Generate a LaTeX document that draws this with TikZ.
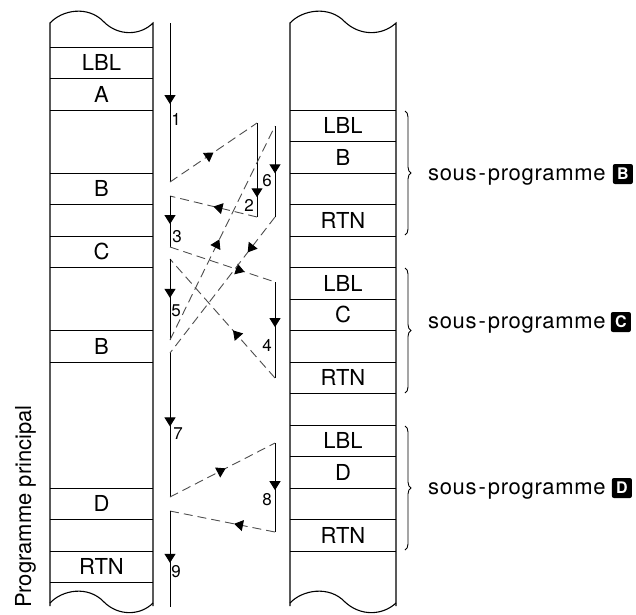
\documentclass[tikz,border=0pt]{standalone}
\usepackage{fontspec}
\setmainfont{TeX Gyre Heros}
\newfontfamily\spacedfont[LetterSpace=3]{TeX Gyre Heros}
\usetikzlibrary{arrows.meta,decorations.markings,decorations.pathreplacing}
\tikzset{
  colline/.style={line width=1.1pt},
  rowline/.style={line width=1pt},
  cell/.style={font=\fontsize{22}{24}\selectfont, inner sep=0pt},
  flow/.style={line width=1pt},
  callline/.style={line width=0.9pt, dash pattern=on 9pt off 5pt, draw=black!70},
  num/.style={font=\fontsize{17}{19}\selectfont, inner sep=0pt},
  tri/.style={postaction={decorate,decoration={markings,mark=at position #1 with {\arrow[black]{Triangle[width=11pt,length=9pt]}}}}},
  subbrace/.style={decorate,decoration={brace,amplitude=6pt},line width=0.9pt},
  sp/.style={font=\spacedfont\fontsize{22}{24}\selectfont, anchor=base west, inner sep=0pt},
  letterbox/.style={fill=black, text=white, rounded corners=2pt, font=\bfseries\fontsize{16}{16}\selectfont, minimum width=20pt, minimum height=20pt, inner sep=0pt, anchor=west}
}
\begin{document}
\begin{tikzpicture}[x=1pt,y=-1pt]
\useasboundingbox (0,0) rectangle (636,614);
% ---------- left column (main program)
\draw[colline] (50,606) -- (50,23) .. controls (62,10) and (88,5) .. (104,22)
  .. controls (118,36) and (140,36) .. (153,23) -- (153,606);
\draw[colline] (50,603) .. controls (62,590) and (88,585) .. (104,602)
  .. controls (118,616) and (140,616) .. (153,603);
\foreach \y in {47,78.5,110,173,204.5,236,267.5,330.5,362,488,519.5,551,582.5}
  \draw[rowline] (50,\y) -- (153,\y);
\node[cell] (mLBL) at (101.5,62.75) {LBL};
\node[cell] (mA) at (101.5,94.25) {A};
\node[cell] (mB1) at (101.5,188.75) {B};
\node[cell] (mC) at (101.5,251.75) {C};
\node[cell] (mB2) at (101.5,346.25) {B};
\node[cell] (mD) at (101.5,503.75) {D};
\node[cell] (mRTN) at (101.5,566.75) {RTN};
\node[rotate=90, anchor=base east, font=\fontsize{22}{24}\selectfont, inner sep=0pt] (pp) at (31,405) {Programme principal};
% ---------- right column (subprograms)
\draw[colline] (290,606) -- (290,23) .. controls (302,10) and (329,5) .. (345,22)
  .. controls (360,36) and (382,36) .. (396,23) -- (396,606);
\draw[colline] (290,603) .. controls (302,590) and (329,585) .. (345,602)
  .. controls (360,616) and (382,616) .. (396,603);
\foreach \y in {110,141.5,173,204.5,236,267.5,299,330.5,362,393.5,425,456.5,488,519.5,551}
  \draw[rowline] (290,\y) -- (396,\y);
\node[cell] (sLBLb) at (343,125.75) {LBL};
\node[cell] (sB) at (343,157.25) {B};
\node[cell] (sRTNb) at (343,220.25) {RTN};
\node[cell] (sLBLc) at (343,283.25) {LBL};
\node[cell] (sC) at (343,314.75) {C};
\node[cell] (sRTNc) at (343,377.75) {RTN};
\node[cell] (sLBLd) at (343,440.75) {LBL};
\node[cell] (sD) at (343,472.25) {D};
\node[cell] (sRTNd) at (343,535.25) {RTN};
% braces and labels
\coordinate (bBt) at (405,111); \coordinate (bBb) at (405,235);
\coordinate (bCt) at (405,268); \coordinate (bCb) at (405,393);
\coordinate (bDt) at (405,426); \coordinate (bDb) at (405,550);
\draw[subbrace] (bBt) -- (bBb);
\draw[subbrace] (bCt) -- (bCb);
\draw[subbrace] (bDt) -- (bDb);
\node[sp] (spB) at (428,180) {sous\kern2pt-\kern2pt programme};
\node[sp] (spC) at (428,328) {sous\kern2pt-\kern2pt programme};
\node[sp] (spD) at (428,494) {sous\kern2pt-\kern2pt programme};
\node[letterbox] (kB) at ([xshift=7pt,yshift=6pt]spB.base east) {B};
\node[letterbox] (kC) at ([xshift=5pt,yshift=6pt]spC.base east) {C};
\node[letterbox] (kD) at ([xshift=6pt,yshift=6pt]spD.base east) {D};
% ---------- flow coordinates
\coordinate (a1) at (170,23);  \coordinate (a2) at (170,182);
\coordinate (b1) at (257,123); \coordinate (b2) at (257,217);
\coordinate (r1) at (170,196); \coordinate (r2) at (170,247);
\coordinate (c1) at (275,282); \coordinate (c2) at (275,378);
\coordinate (s1) at (170,259); \coordinate (s2) at (170,340);
\coordinate (d1) at (275,126); \coordinate (d2) at (275,217);
\coordinate (t1) at (170,353); \coordinate (t2) at (170,497);
\coordinate (e1) at (275,443); \coordinate (e2) at (275,532);
\coordinate (u1) at (170,511); \coordinate (u2) at (170,607);
% ---------- flow lines
\draw[flow,tri=0.51] (a1) -- (a2);
\draw[callline,tri=0.5] (a2) -- (b1);
\draw[flow,tri=0.79] (b1) -- (b2);
\draw[callline,tri=0.5] (b2) -- (r1);
\draw[flow,tri=0.55] (r1) -- (r2);
\draw[callline,tri=0.71] (r2) -- (c1);
\draw[flow,tri=0.47] (c1) -- (c2);
\draw[callline,tri=0.4] (c2) -- (s1);
\draw[flow,tri=0.48] (s1) -- (s2);
\draw[callline,tri=0.47] (s2) -- (d1);
\draw[flow,tri=0.52] (d1) -- (d2);
\draw[callline,tri=0.26] (d2) -- (t1);
\draw[flow,tri=0.51] (t1) -- (t2);
\draw[callline,tri=0.53] (t2) -- (e1);
\draw[flow,tri=0.53] (e1) -- (e2);
\draw[callline,tri=0.39] (e2) -- (u1);
\draw[flow,tri=0.54] (u1) -- (u2);
% ---------- step numbers
\node[num] (n1) at (176,119) {1};
\node[num] (n2) at (249,205) {2};
\node[num] (n3) at (177,237) {3};
\node[num] (n4) at (267,345) {4};
\node[num] (n5) at (176,311) {5};
\node[num] (n6) at (267,181) {6};
\node[num] (n7) at (178,434) {7};
\node[num] (n8) at (267,500) {8};
\node[num] (n9) at (176,572) {9};
\end{tikzpicture}
\end{document}
